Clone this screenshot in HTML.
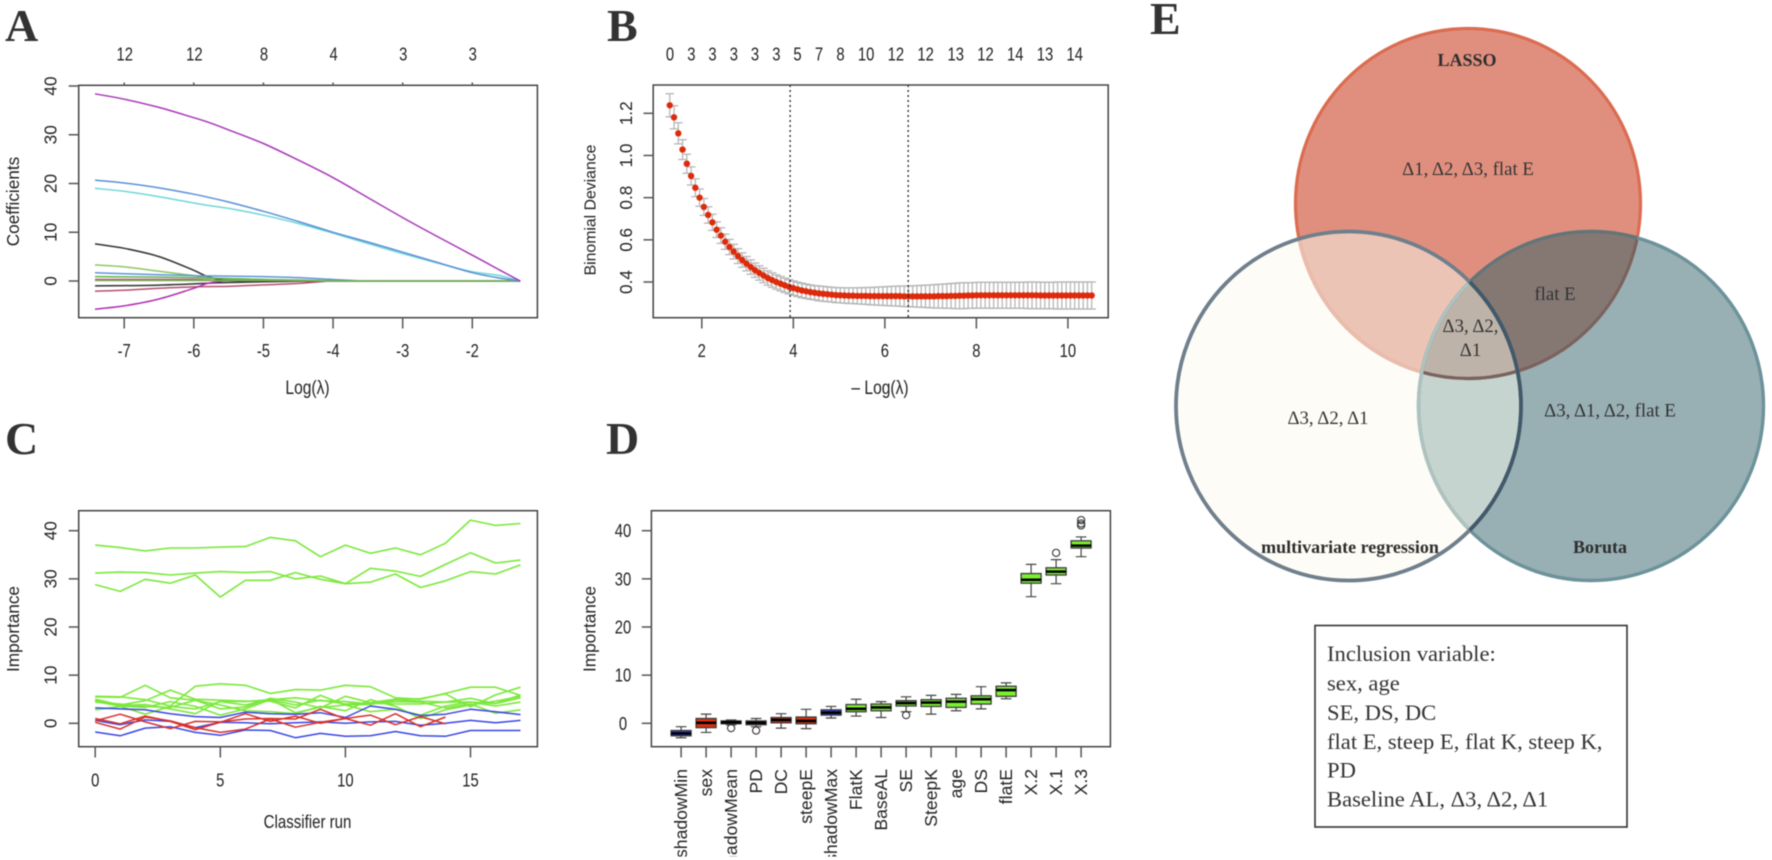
<!DOCTYPE html>
<html lang="en">
<head>
<meta charset="utf-8">
<title>Feature selection figure</title>
<style>
html,body{margin:0;padding:0;background:#fff;width:1772px;height:860px;overflow:hidden}
svg{display:block;filter:blur(.4px)}
text{font-family:"Liberation Sans",sans-serif;fill:#222}
.panel{font-family:"Liberation Serif",serif;font-weight:bold;font-size:46px;fill:#333}
.venn-b{font-family:"Liberation Serif",serif;font-weight:bold;font-size:18px;fill:#2e2e2e;text-anchor:middle}
.venn-t{font-family:"Liberation Serif",serif;font-size:18.8px;fill:#333;text-anchor:middle}
.incl{font-family:"Liberation Serif",serif;font-size:22.6px;fill:#333}
</style>
</head>
<body>
<svg id="fig" xmlns="http://www.w3.org/2000/svg" width="1772" height="860" viewBox="0 0 1772 860">
  <rect width="1772" height="860" fill="#fff"/>
  <defs>
    <clipPath id="cTop"><ellipse cx="1468" cy="203.5" rx="172.5" ry="175"/></clipPath>
    <clipPath id="cLeft"><ellipse cx="1348.5" cy="406" rx="172.5" ry="174.5"/></clipPath>
    <clipPath id="cRight"><ellipse cx="1591" cy="406" rx="172.5" ry="174.5"/></clipPath>
    <clipPath id="cLabels"><rect x="640" y="750" width="480" height="106.5"/></clipPath>
  </defs>

  <text class="panel" x="5" y="41">A</text>
  <text class="panel" x="607" y="41">B</text>
  <text class="panel" x="5" y="454">C</text>
  <text class="panel" x="606" y="454">D</text>
  <text class="panel" x="1150" y="34">E</text>

  <g id="panelA"></g>
  <g id="panelB"></g>
  <g id="panelC"></g>
  <g id="panelD"></g>

  <g>
    <ellipse cx="1468" cy="203.5" rx="172.5" ry="175" fill="#E08F7E"/>
    <ellipse cx="1348.5" cy="406" rx="172.5" ry="174.5" fill="#FEFCF6"/>
    <ellipse cx="1591" cy="406" rx="172.5" ry="174.5" fill="#98AFB4"/>
    <g clip-path="url(#cTop)"><ellipse cx="1348.5" cy="406" rx="172.5" ry="174.5" fill="#ECC4B6"/></g>
    <g clip-path="url(#cTop)"><ellipse cx="1591" cy="406" rx="172.5" ry="174.5" fill="#857873"/></g>
    <g clip-path="url(#cLeft)"><ellipse cx="1591" cy="406" rx="172.5" ry="174.5" fill="#C5D4CE"/></g>
    <g clip-path="url(#cTop)"><g clip-path="url(#cLeft)"><ellipse cx="1591" cy="406" rx="172.5" ry="174.5" fill="#BDB3A9"/></g></g>
    <ellipse cx="1468" cy="203.5" rx="172.5" ry="175" fill="none" stroke="#DB6C50" stroke-width="3.2"/>
    <g clip-path="url(#cLeft)"><ellipse cx="1468" cy="203.5" rx="172.5" ry="175" fill="none" stroke="#E9BDAE" stroke-width="3.2"/></g>
    <g clip-path="url(#cRight)"><ellipse cx="1468" cy="203.5" rx="172.5" ry="175" fill="none" stroke="#78635F" stroke-width="3.2"/></g>
    <ellipse cx="1591" cy="406" rx="172.5" ry="174.5" fill="none" stroke="#6C929A" stroke-width="3.4"/>
    <g clip-path="url(#cTop)"><ellipse cx="1591" cy="406" rx="172.5" ry="174.5" fill="none" stroke="#667477" stroke-width="3.4"/></g>
    <g clip-path="url(#cLeft)"><ellipse cx="1591" cy="406" rx="172.5" ry="174.5" fill="none" stroke="#AEC3BF" stroke-width="3.4"/></g>
    <ellipse cx="1348.5" cy="406" rx="172.5" ry="174.5" fill="none" stroke="#6F7F8C" stroke-width="3.8"/>
    <g clip-path="url(#cRight)"><ellipse cx="1348.5" cy="406" rx="172.5" ry="174.5" fill="none" stroke="#42596A" stroke-width="3.8"/></g>
    <text class="venn-b" x="1467" y="66">LASSO</text>
    <text class="venn-t" x="1468" y="175">Δ1, Δ2, Δ3, flat E</text>
    <text class="venn-t" x="1555" y="300">flat E</text>
    <text class="venn-t" x="1470.5" y="332">Δ3, Δ2,</text>
    <text class="venn-t" x="1470.5" y="356">Δ1</text>
    <text class="venn-t" x="1328" y="424">Δ3, Δ2, Δ1</text>
    <text class="venn-t" x="1610" y="416.5">Δ3, Δ1, Δ2, flat E</text>
    <text class="venn-b" x="1350" y="553">multivariate regression</text>
    <text class="venn-b" x="1600" y="553">Boruta</text>
  </g>

  <g>
    <rect x="1315" y="625.5" width="312" height="201.5" fill="#fff" stroke="#333" stroke-width="1.6"/>
    <text class="incl" x="1327" y="661">Inclusion variable:</text>
    <text class="incl" x="1327" y="690.5">sex, age</text>
    <text class="incl" x="1327" y="720">SE, DS, DC</text>
    <text class="incl" x="1327" y="749">flat E, steep E, flat K, steep K,</text>
    <text class="incl" x="1327" y="777.5">PD</text>
    <text class="incl" x="1327" y="806.5">Baseline AL, Δ3, Δ2, Δ1</text>
  </g>
</svg>

<script>
/* ---------- Panel A data ---------- */
const pathLogLambda = [-7.42,-7,-6.5,-6,-5.8,-5.5,-5,-4.5,-4,-3.5,-3,-2.5,-2,-1.6,-1.31];
const pathPurpleTop = [38.4,37.3,35.6,33.5,32.6,31,28.2,24.8,21.2,17.1,13,9.1,5.3,2.2,0];
const pathBlueTop = [20.7,20.1,19.1,17.8,17.2,16.2,14.3,12.2,10,8,5.9,3.8,1.7,0.6,0];
const pathCyan = [19,18.4,17.3,16,15.5,14.9,13.5,11.8,9.8,7.7,5.6,3.7,1.9,1.1,0];
const pathBlackTop = [7.6,6.7,5,2.2,0.9,0.1,0,0,0,0,0,0,0,0,0];
const pathGreenTop = [3.3,2.9,2,1.1,0.7,0.5,0.3,0.1,0,0,0,0,0,0,0];
const pathBlueSmall = [1.7,1.5,1.3,1.1,1.05,1,0.9,0.7,0.3,0,0,0,0,0,0];
const pathGreenSmall = [0.9,0.85,0.8,0.7,0.6,0.5,0.3,0.2,0.05,0,0,0,0,0,0];
const pathPink = [0.3,0.3,0.3,0.3,0.2,0.1,0,0,0,0,0,0,0,0,0];
const pathBlackLow = [-1,-0.95,-0.85,-0.6,-0.45,-0.3,-0.15,-0.05,0,0,0,0,0,0,0];
const pathMaroon = [-2.1,-1.9,-1.5,-1.2,-1.15,-1.1,-0.8,-0.5,0,0,0,0,0,0,0];
const pathPurpleLow = [-5.8,-5.1,-3.7,-1.5,-0.5,0.1,0.05,0,0,0,0,0,0,0,0];
const pathGreenLast = [0.1,0.1,0.1,0.1,0.1,0.1,0.1,0.1,0,0,0,0,0,0,0];
const pathXTicks = [-7,-6,-5,-4,-3,-2];
const pathTopCounts = ['12','12','8','4','3','3'];
const pathYTicks = [0,10,20,30,40];

/* ---------- Panel B data ---------- */
const devianceStart = 1.30;
const devianceEnd = 10.52;
const devianceMean = [1.238,1.181,1.105,1.028,.961,.903,.847,.800,.756,.718,.683,.648,.620,.591,.566,.544,.523,.504,.487,.471,.456,.443,.431,.419,.409,.400,.392,.384,.377,.371,.365,.360,.356,.352,.349,.346,.344,.342,.340,.338,.337,.336,.335,.335,.334,.334,.334,.333,.333,.333,.333,.333,.333,.333,.333,.332,.332,.332,.332,.332,.332,.332,.332,.333,.333,.333,.334,.334,.335,.335,.336,.336,.337,.337,.337,.337,.337,.337,.337,.337,.337,.337,.337,.337,.337,.337,.337,.336,.336,.336,.336,.336,.336,.336,.336,.336,.336,.336,.336,.336];
const devianceSE = [.055,.055,.050,.047,.045,.043,.042,.041,.040,.039,.038,.037,.037,.036,.036,.035,.035,.034,.034,.034,.034,.034,.034,.034,.034,.034,.034,.034,.034,.034,.034,.034,.034,.034,.034,.035,.035,.035,.035,.036,.036,.036,.037,.037,.038,.039,.040,.041,.042,.043,.044,.045,.046,.047,.048,.049,.049,.050,.051,.052,.053,.054,.055,.056,.057,.058,.059,.060,.061,.061,.061,.061,.061,.061,.061,.061,.062,.062,.062,.062,.062,.062,.062,.062,.063,.063,.063,.063,.063,.063,.063,.064,.064,.064,.064,.064,.064,.064,.064,.064];
const devianceXTicks = [2,4,6,8,10];
const devianceYTicks = [0.4,0.6,0.8,1.0,1.2];
const devianceYLabels = ['0.4','0.6','0.8','1.0','1.2'];
const devianceVLines = [3.93,6.51];
const devianceTopX = [1.305,1.773,2.234,2.70,3.163,3.63,4.09,4.56,5.03,5.59,6.24,6.89,7.55,8.2,8.85,9.5,10.15];
const devianceTopCounts = ['0','3','3','3','3','3','5','7','8','10','12','12','13','12','14','13','14'];

/* ---------- Panel C data ---------- */
const historyGreen = [
 [37,36.5,35.8,36.4,36.4,36.6,36.7,38.6,37.9,34.6,37,35.3,36.4,35,37.4,42.2,41.1,41.5],
 [31.2,31.4,31.3,30.8,31.2,31.5,31.3,31.5,30,30.6,29,32.2,31.6,30.5,33,35.4,33.3,33.9],
 [28.8,27.4,29.9,29.1,30.8,26.2,29.7,29.7,31.3,29.9,29,29.3,31,28.2,29.6,31.5,31,32.9],
 [5.6,5.5,4.9,3.6,7.7,8.2,7.9,6.2,7,6.9,7.9,7.6,5.3,5,6.2,7.5,7.5,5.8],
 [5.5,5.4,7.9,5.3,4.8,3,3.4,5.2,4.4,3.2,5.6,4.3,5,5.1,6.1,3.4,5.9,7.5],
 [5,3.8,4.7,6.9,5,4.8,4.6,4.6,3.2,5.8,3.8,3.9,4.9,4.6,4.4,5.2,4.1,5.9],
 [4.8,3.7,3.9,3,2,4.6,4.5,4.9,5.3,4.7,4.5,4,4.5,4.4,3.2,4,2.1,2.8],
 [4.5,3.6,3.3,4.5,3.5,1.7,3,4.9,3.8,4.8,4,4.2,4,4,4.4,4.4,4.1,5.3],
 [4.4,4,3.5,3.3,4.8,3.8,2.6,2.4,2,3.5,2.6,4.9,3.5,1,2.8,3.8,4.6,5.6],
 [2.8,3.5,1.9,3.5,3,4.5,3.8,5,2.2,3.3,3.8,2.4,2.9,1.7,3.6,4.4,3.6,4.4]
];
const historyRed = [
 [1,-0.1,1.5,0.4,-1.3,0.2,2,0.4,1.5,0,1,1.7,-0.3,1.4,-0.1],
 [0.2,-1.2,1.3,0.5,-0.9,-1.9,-1.2,0.9,-0.8,0.2,1,-0.4,2,-0.7,1.3],
 [0.5,1.9,0.3,-1.1,0.4,0.3,0.9,1,0.9,2.9,0.9]
];
const historyBlue = [
 [3.2,3,2.8,2,1.4,1.2,2.3,2,1.9,2.2,1.2,3.6,2.9,1.6,1.9,2.9,2.4,1.8],
 [0.6,-0.3,0.7,0.4,-0.9,0.2,0.1,-0.1,0.1,0.3,0,0.3,0.4,-0.4,0,0.6,0.1,0.6],
 [-1.8,-2.6,-1,-0.7,-1.9,-2.5,-1.4,-1.5,-3,-2.1,-2.7,-2.6,-1.7,-2.6,-2.7,-1.5,-1.5,-1.5]
];
const historyXTicks = [0,5,10,15];
const importanceYTicks = [0,10,20,30,40];

/* ---------- Panel D data ---------- */
const boxNames = ['shadowMin','sex','shadowMean','PD','DC','steepE','shadowMax','FlatK','BaseAL','SE','SteepK','age','DS','flatE','X.2','X.1','X.3'];
const boxDecision = ['shadow','rejected','shadow','rejected','rejected','rejected','shadow','confirmed','confirmed','confirmed','confirmed','confirmed','confirmed','confirmed','confirmed','confirmed','confirmed'];
const boxMedian = [-2.1,0.1,0.2,0.1,0.7,0.5,2.2,3,3.3,4.2,4.3,4.5,5,6.9,29.8,31.5,36.9];
const boxQ1 = [-2.6,-0.9,-0.1,-0.3,0.1,-0.1,1.7,2.4,2.6,3.6,3.5,3.3,4,5.6,29.1,30.8,36.4];
const boxQ3 = [-1.5,1,0.5,0.5,1.2,1.3,2.8,3.9,4,4.7,4.9,5.2,5.7,7.7,31.1,32.3,37.9];
const boxWhiskerLow = [-3,-1.9,-0.3,-0.7,-1,-1.1,1.1,1.5,1.2,2.4,1.9,2.6,3,5.1,26.3,29,34.6];
const boxWhiskerHigh = [-0.7,1.9,0.7,1,2,2.9,3.5,5,4.5,5.5,5.8,6,7.6,8.4,33,34,38.7];
const boxOutliers = [[],[],[-1],[-1.5],[],[],[],[],[],[1.7],[],[],[],[],[],[35.4],[42.2,41.5,41.1]];

/* ---------- helpers ---------- */
const NS = 'http://www.w3.org/2000/svg';
function mk(tag, attrs, parent) {
  const el = document.createElementNS(NS, tag);
  for (const k in attrs) el.setAttribute(k, attrs[k]);
  parent.appendChild(el);
  return el;
}
function scale(v0, p0, v1, p1) {
  return function (v) { return p0 + (v - v0) * (p1 - p0) / (v1 - v0); };
}
function frame(parent, x0, y0, x1, y1) {
  const el = mk('rect', {x: x0, y: y0, width: x1 - x0, height: y1 - y0, fill: 'none', stroke: '#444', 'stroke-width': 1.5}, parent);
  
  
}
function tick(parent, x1, y1, x2, y2, name) {
  const el = mk('line', {x1: x1, y1: y1, x2: x2, y2: y2, stroke: '#555', 'stroke-width': 1.5}, parent);
  
  
}
function hText(parent, str, x, y, name, size) {
  const el = mk('text', {transform: 'translate(' + x + ',' + y + ') scale(.8,1)', 'text-anchor': 'middle', 'font-size': size || 18.5}, parent);
  el.textContent = str;
  
  
}
function vText(parent, str, x, y, name, anchor, size) {
  const el = mk('text', {transform: 'translate(' + x + ',' + y + ') rotate(-90) scale(1,1)', 'text-anchor': anchor || 'middle', 'font-size': size || 17.2}, parent);
  el.textContent = str;
  
  
}
function polyline(parent, xs, ys, fx, fy, color, width, name) {
  let pts = '';
  ys.forEach(function (v, i) { pts += fx(xs[i]).toFixed(1) + ',' + fy(v).toFixed(1) + ' '; });
  const el = mk('polyline', {points: pts, fill: 'none', stroke: color, 'stroke-width': width, 'stroke-linejoin': 'round'}, parent);
  
  
}
function smoothLine(parent, xs, ys, fx, fy, color, width, name) {
  const p = ys.map(function (v, i) { return [fx(xs[i]), fy(v)]; });
  let d = 'M' + p[0][0].toFixed(1) + ' ' + p[0][1].toFixed(1);
  for (let i = 0; i < p.length - 1; i++) {
    const a = p[Math.max(i - 1, 0)], b = p[i], c = p[i + 1], e = p[Math.min(i + 2, p.length - 1)];
    const h = (c[0] - b[0]) / 3;
    const s1 = (c[1] - a[1]) / ((c[0] - a[0]) || 1);
    const s2 = (e[1] - b[1]) / ((e[0] - b[0]) || 1);
    d += 'C' + (b[0] + h).toFixed(1) + ' ' + (b[1] + s1 * h).toFixed(1) + ' ' + (c[0] - h).toFixed(1) + ' ' + (c[1] - s2 * h).toFixed(1) + ' ' + c[0].toFixed(1) + ' ' + c[1].toFixed(1);
  }
  const el = mk('path', {d: d, fill: 'none', stroke: color, 'stroke-width': width}, parent);
  
  
}

/* ---------- Panel A ---------- */
(function () {
  const g = document.getElementById('panelA');
  const fx = scale(-7, 124.2, -2, 472.3);
  const fy = scale(0, 281, 40, 86);
  const series = [
    [pathPink, '#C0407A', 'coef-line-pink'],
    [pathBlackLow, '#333', 'coef-line-black-low'],
    [pathMaroon, '#B8506E', 'coef-line-maroon'],
    [pathPurpleLow, '#B030B4', 'coef-line-purple-low'],
    [pathBlackTop, '#333', 'coef-line-black-top'],
    [pathGreenTop, '#8CC764', 'coef-line-green-top'],
    [pathBlueSmall, '#5B96DC', 'coef-line-blue-small'],
    [pathGreenSmall, '#5CB848', 'coef-line-green-small'],
    [pathGreenLast, '#7DAF5A', 'coef-line-green-last'],
    [pathCyan, '#70D6D8', 'coef-line-cyan'],
    [pathBlueTop, '#5A90D8', 'coef-line-blue-top'],
    [pathPurpleTop, '#A838B8', 'coef-line-purple-top']
  ];
  series.forEach(function (s) { smoothLine(g, pathLogLambda, s[0], fx, fy, s[1], 1.5, s[2]); });
  frame(g, 78.7, 85.3, 537.4, 317.7);
  pathXTicks.forEach(function (v, i) {
    tick(g, fx(v), 317.7, fx(v), 328.5, 'x-axis-tick');
    tick(g, fx(v), 85.3, fx(v), 82.5, 'top-axis-tick');
    hText(g, String(v), fx(v), 357, 'x-axis-tick-label');
    hText(g, pathTopCounts[i], fx(v) + 0.5, 60.5, 'top-axis-count-label');
  });
  pathYTicks.forEach(function (v) {
    tick(g, 68.7, fy(v), 78.7, fy(v), 'y-axis-tick');
    vText(g, String(v), 56.5, fy(v), 'y-axis-tick-label');
  });
  vText(g, 'Coefficients', 19, 201.5, 'y-axis-title');
  hText(g, 'Log(λ)', 307.5, 394, 'x-axis-title', 19.5);
})();

/* ---------- Panel B ---------- */
(function () {
  const g = document.getElementById('panelB');
  const fx = scale(2, 701.8, 10, 1067.9);
  const fy = scale(0.4, 282, 1.2, 113.3);
  const step = (devianceEnd - devianceStart) / (devianceMean.length - 1);
  devianceMean.forEach(function (m, i) {
    const x = fx(devianceStart + i * step);
    const se = devianceSE[i];
    const bar = mk('path', {d: 'M' + x + ' ' + fy(m - se) + 'V' + fy(m + se) + 'M' + (x - 4.3) + ' ' + fy(m + se) + 'H' + (x + 4.3) + 'M' + (x - 4.3) + ' ' + fy(m - se) + 'H' + (x + 4.3), fill: 'none', stroke: '#B4B4B4', 'stroke-width': 1.25}, g);
    
    
  });
  devianceMean.forEach(function (m, i) {
    const dot = mk('circle', {cx: fx(devianceStart + i * step), cy: fy(m), r: 3.2, fill: '#DD2A0A'}, g);
    
    
  });
  devianceVLines.forEach(function (v) {
    const el = mk('line', {x1: fx(v), y1: 85, x2: fx(v), y2: 317.7, stroke: '#222', 'stroke-width': 1.3, 'stroke-dasharray': '2 3'}, g);
    
    
  });
  frame(g, 653.2, 85, 1108.2, 317.7);
  devianceXTicks.forEach(function (v) {
    tick(g, fx(v), 317.7, fx(v), 328.5, 'x-axis-tick');
    hText(g, String(v), fx(v), 357, 'x-axis-tick-label');
  });
  devianceYTicks.forEach(function (v, i) {
    tick(g, 643.5, fy(v), 653.2, fy(v), 'y-axis-tick');
    vText(g, devianceYLabels[i], 632, fy(v), 'y-axis-tick-label');
  });
  devianceTopX.forEach(function (v, i) {
    hText(g, devianceTopCounts[i], fx(v), 60.5, 'top-axis-count-label');
  });
  vText(g, 'Binomial Deviance', 595.5, 210, 'y-axis-title', 'middle', 15.8);
  hText(g, '– Log(λ)', 880, 394, 'x-axis-title', 19.5);
})();

/* ---------- Panel C ---------- */
(function () {
  const g = document.getElementById('panelC');
  const fx = scale(0, 95.2, 15, 470.5);
  const fy = scale(0, 723.3, 40, 530.7);
  const run = function (v, i) { return i; };
  historyGreen.forEach(function (s) { polyline(g, s.map(run), s, fx, fy, '#7CE83C', 1.6, 'history-line-confirmed'); });
  historyBlue.forEach(function (s) { polyline(g, s.map(run), s, fx, fy, '#3A46E4', 1.5, 'history-line-shadow'); });
  historyRed.forEach(function (s) { polyline(g, s.map(run), s, fx, fy, '#D8302A', 1.5, 'history-line-rejected'); });
  frame(g, 78.7, 510.7, 537.4, 746.7);
  historyXTicks.forEach(function (v) {
    tick(g, fx(v), 746.7, fx(v), 757.5, 'x-axis-tick');
    hText(g, String(v), fx(v), 786.5, 'x-axis-tick-label');
  });
  importanceYTicks.forEach(function (v) {
    tick(g, 68.7, fy(v), 78.7, fy(v), 'y-axis-tick');
    vText(g, String(v), 56.5, fy(v), 'y-axis-tick-label');
  });
  vText(g, 'Importance', 19, 629, 'y-axis-title');
  hText(g, 'Classifier run', 307.5, 828, 'x-axis-title', 18.8);
})();

/* ---------- Panel D ---------- */
(function () {
  const g = document.getElementById('panelD');
  const fx = scale(0, 681.1, 16, 1081.1);
  const fy = scale(0, 723.3, 40, 530.7);
  const fills = {shadow: '#2A3CE0', rejected: '#E1300F', confirmed: '#7CF02E'};
  frame(g, 651.4, 510.7, 1110.4, 746.7);
  importanceYTicks.forEach(function (v) {
    tick(g, 641.8, fy(v), 651.4, fy(v), 'y-axis-tick');
    hText(g, String(v), 623, fy(v) + 6.5, 'y-axis-tick-label');
  });
  const labelLayer = mk('g', {'clip-path': 'url(#cLabels)'}, g);
  
  
  boxNames.forEach(function (name, i) {
    const x = fx(i);
    const w = 10;
    const whisk = mk('path', {d: 'M' + x + ' ' + fy(boxQ3[i]) + 'V' + fy(boxWhiskerHigh[i]) + 'M' + (x - 5.3) + ' ' + fy(boxWhiskerHigh[i]) + 'H' + (x + 5.3) + 'M' + x + ' ' + fy(boxQ1[i]) + 'V' + fy(boxWhiskerLow[i]) + 'M' + (x - 5.3) + ' ' + fy(boxWhiskerLow[i]) + 'H' + (x + 5.3), fill: 'none', stroke: '#444', 'stroke-width': 1.2}, g);
    
    
    const box = mk('rect', {x: x - w, y: fy(boxQ3[i]), width: 2 * w, height: fy(boxQ1[i]) - fy(boxQ3[i]), fill: fills[boxDecision[i]], stroke: '#3c3c3c', 'stroke-width': 1.3}, g);
    
    
    const med = mk('line', {x1: x - w, x2: x + w, y1: fy(boxMedian[i]), y2: fy(boxMedian[i]), stroke: '#000', 'stroke-width': 2.6}, g);
    
    
    boxOutliers[i].forEach(function (v) {
      const c = mk('circle', {cx: x, cy: fy(v), r: 3.6, fill: 'none', stroke: '#333', 'stroke-width': 1.1}, g);
      
      
    });
    tick(g, x, 746.7, x, 757.5, 'x-axis-tick');
    vText(labelLayer, name, x + 6, 769, 'x-axis-tick-label', 'end', 17.6);
  });
  vText(g, 'Importance', 595.5, 629, 'y-axis-title');
})();
</script>
</body>
</html>
